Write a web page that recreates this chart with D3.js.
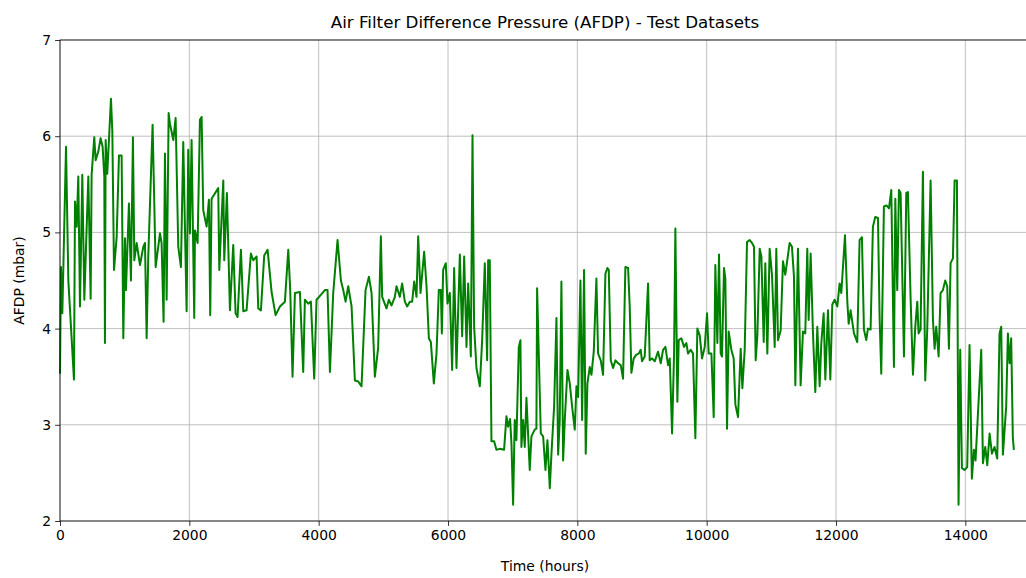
<!DOCTYPE html>
<html>
<head>
<meta charset="utf-8">
<script src="https://cdn.jsdelivr.net/npm/d3@7"></script>
<style>
  body { margin: 0; background: #fff; }
  text { font-family: "DejaVu Sans", sans-serif; fill: #000; }
</style>
</head>
<body>
<div id="main"></div>
<script>
// horas de operacao
const timeHours = [
  0, 15, 36, 93, 129, 216, 232, 258, 283, 309, 345, 376, 438, 474, 489, 530, 551, 592, 628, 659,
  685, 695, 706, 731, 757, 788, 809, 835, 876, 912, 953, 979, 1005, 1020, 1066, 1097, 1128, 1149, 1185, 1237,
  1288, 1314, 1340, 1365, 1432, 1479, 1546, 1571, 1602, 1623, 1649, 1680, 1700, 1752, 1788, 1829, 1870, 1906, 1958, 1983,
  2009, 2035, 2076, 2087, 2128, 2164, 2190, 2215, 2267, 2303, 2323, 2344, 2447, 2463, 2525,
  2540, 2581, 2628, 2679, 2715, 2746, 2798, 2834, 2885, 2952, 2988, 3040, 3066, 3107, 3158, 3210, 3272, 3334, 3401, 3478,
  3530, 3560, 3596, 3633, 3710, 3761, 3787, 3839, 3880, 3931, 3967, 4034, 4096, 4137, 4174, 4225, 4292, 4344, 4380, 4416,
  4457, 4509, 4560, 4612, 4663, 4725, 4777, 4818, 4869,
  4920, 4962, 4982, 5049, 5085, 5127, 5178, 5204, 5255, 5291, 5333, 5369, 5410, 5446, 5477, 5513, 5539, 5575, 5631, 5668,
  5704, 5735, 5781, 5822, 5858, 5889, 5905, 5925, 5966, 5992, 6028, 6064, 6095, 6131, 6183, 6219, 6250, 6286, 6312, 6353,
  6379, 6404, 6440, 6492, 6528, 6569, 6605, 6621, 6646,
  6672, 6713, 6749, 6801, 6867, 6904, 6929, 6960, 6981, 7007, 7032, 7058, 7095, 7120, 7135, 7161, 7187, 7213, 7264, 7290,
  7341, 7367, 7378,
  7435, 7471, 7507, 7538, 7574, 7600, 7641, 7677, 7703, 7728, 7754, 7780, 7806, 7847, 7883, 7919, 7960, 7986, 8012, 8048,
  8074, 8104, 8130, 8156, 8192, 8218, 8254, 8295, 8321, 8362, 8398, 8434, 8465, 8486, 8517, 8553, 8589, 8630, 8671, 8707,
  8743, 8785, 8810, 8836, 8872, 8913, 8949, 8980, 9001, 9042, 9094, 9119, 9155, 9197, 9248, 9290, 9326, 9362, 9403, 9429,
  9465, 9496, 9516, 9547, 9568, 9609, 9650, 9686, 9712, 9753, 9789, 9825, 9856, 9893,
  9928, 9970, 10006, 10031, 10073, 10109, 10134, 10165, 10191, 10217, 10237, 10268, 10289, 10315, 10340, 10382, 10418, 10444, 10485, 10526,
  10552, 10588, 10624, 10665, 10701, 10732, 10758, 10784, 10820, 10846, 10882, 10907, 10938, 10974, 11010, 11052, 11077, 11103, 11144, 11180,
  11216, 11283, 11319, 11350, 11371, 11412, 11453, 11489, 11525, 11556, 11577, 11608, 11644, 11680, 11711, 11747, 11773, 11809, 11835, 11876,
  11912, 11943, 11979, 12020, 12056, 12082, 12139, 12175, 12196, 12226, 12278,
  12329, 12365, 12401, 12432, 12468, 12494, 12535, 12571, 12607, 12649, 12674, 12700, 12741, 12782, 12819, 12855, 12896, 12917, 12947, 12973,
  12999, 13051, 13087, 13112, 13153, 13190, 13226, 13257, 13277, 13308, 13344, 13380, 13411, 13463, 13499, 13525, 13550, 13587, 13617, 13653,
  13689, 13720, 13746, 13772, 13808, 13834, 13870, 13895, 13921, 13947, 13988, 14029, 14065, 14101, 14133, 14158, 14246, 14272, 14308, 14339,
  14375, 14411, 14452, 14493, 14529, 14555, 14581, 14632, 14658, 14684, 14709, 14735, 14751
];

// pressao diferencial (mbar)
const afdp = [
  3.53, 4.64, 4.16, 5.89, 4.50, 3.47, 5.32, 5.06, 5.58, 4.23, 5.60, 4.30, 5.58, 4.31, 5.60, 5.99, 5.75, 5.84, 5.98, 5.89,
  5.58, 3.85, 5.96, 5.61, 5.96, 6.39, 6.06, 4.61, 4.95, 5.80, 5.80, 3.90, 4.94, 4.40, 5.30, 4.50, 5.99, 4.71, 4.89, 4.66,
  4.85, 4.89, 3.90, 4.75, 6.12, 4.64, 4.99, 4.89, 4.07, 5.82, 4.30, 6.24, 6.13, 5.96, 6.19, 4.85, 4.64, 5.94, 4.18, 5.86,
  4.99, 5.96, 4.11, 5.02, 4.89, 6.17, 6.20, 5.23, 5.06, 5.34, 4.14, 5.35, 5.46, 4.61, 5.54,
  4.71, 5.41, 4.19, 4.87, 4.16, 4.12, 4.82, 4.18, 4.19, 4.78, 4.71, 4.75, 4.21, 4.19, 4.76, 4.82, 4.38, 4.14, 4.23, 4.28,
  4.82, 4.40, 3.50, 4.37, 4.38, 3.55, 4.30, 4.26, 4.28, 3.48, 4.30, 4.35, 4.40, 4.40, 3.55, 4.37, 4.92, 4.50, 4.40, 4.28,
  4.44, 4.23, 3.46, 3.45, 3.40, 4.40, 4.54, 4.37, 3.50,
  3.80, 4.96, 4.33, 4.21, 4.30, 4.24, 4.33, 4.44, 4.33, 4.47, 4.28, 4.23, 4.28, 4.28, 4.49, 4.33, 4.96, 4.37, 4.80, 4.44,
  3.90, 3.86, 3.43, 3.74, 4.40, 4.40, 3.95, 4.61, 4.68, 4.26, 4.37, 3.57, 4.63, 3.59, 4.77, 3.92, 4.75, 3.81, 4.47, 3.71,
  6.01, 4.02, 3.59, 3.40, 3.88, 4.68, 3.67, 4.71, 4.71,
  2.83, 2.83, 2.74, 2.75, 2.74, 3.09, 2.98, 3.06, 2.81, 2.17, 3.05, 2.84, 3.81, 3.88, 2.77, 3.05, 2.77, 3.28, 2.53, 2.88,
  2.95, 2.96, 4.42,
  2.91, 2.88, 2.53, 2.84, 2.34, 2.70, 3.19, 4.11, 2.69, 3.05, 4.49, 2.63, 3.05, 3.57, 3.43, 3.19, 2.95, 3.40, 3.29, 4.50,
  3.05, 4.61, 2.70, 3.43, 3.60, 3.52, 3.76, 4.52, 3.74, 3.67, 3.52, 4.57, 4.63, 4.61, 3.67, 3.59, 3.67, 3.64, 3.62, 3.48,
  4.64, 4.63, 4.23, 3.54, 3.69, 3.73, 3.74, 3.78, 3.66, 3.71, 4.47, 3.67, 3.69, 3.66, 3.76, 3.64, 3.78, 3.81, 3.62, 3.69,
  2.91, 3.74, 5.04, 3.24, 3.88, 3.90, 3.81, 3.85, 3.74, 3.78, 3.74, 2.86, 4.00, 3.93,
  3.69, 3.81, 4.16, 3.74, 3.74, 3.08, 4.66, 3.85, 4.77, 3.74, 3.71, 4.63, 4.52, 2.96, 3.97, 3.78, 3.69, 3.21, 3.08, 3.79,
  3.38, 3.78, 4.90, 4.92, 4.89, 4.85, 3.67, 3.93, 4.83, 4.75, 3.86, 4.68, 3.74, 4.83, 4.56, 3.81, 4.83, 3.88, 3.98, 4.70,
  4.56, 4.89, 4.85, 4.54, 3.41, 4.83, 3.41, 3.97, 3.95, 4.83, 4.09, 4.78, 3.95, 3.34, 4.02, 3.40, 3.85, 4.16, 3.47, 4.19,
  3.47, 4.25, 4.30, 4.23, 4.47, 4.37, 4.97, 4.28, 4.05, 4.19, 3.95,
  3.86, 4.92, 4.95, 3.99, 3.88, 4.00, 3.99, 5.06, 5.16, 5.15, 4.12, 3.53, 5.27, 5.28, 5.25, 5.44, 3.60, 5.35, 4.40, 5.44,
  5.41, 3.71, 5.41, 5.42, 4.33, 3.52, 4.02, 4.28, 3.95, 3.99, 5.63, 3.46, 3.99, 5.54, 4.09, 3.79, 4.02, 3.71, 4.37, 4.40,
  4.50, 4.44, 3.79, 4.68, 4.73, 5.54, 5.54, 2.17, 3.78, 2.55, 2.53, 2.56, 3.83, 2.44, 2.74, 2.63, 3.78, 2.60, 2.77, 2.58,
  2.91, 2.70, 2.77, 2.65, 3.95, 4.02, 2.69, 3.19, 3.95, 3.64, 3.90, 2.86, 2.74
];

const xTicks = [0, 2000, 4000, 6000, 8000, 10000, 12000, 14000];
const yTicks = [2, 3, 4, 5, 6, 7];

class AfdpLine {
  constructor(config) {
    this.config = config;
    this.data = timeHours.map((t, i) => ({ t: t, v: afdp[i] }));
    this.createSvg();
    this.createScales();
  }

  createSvg() {
    this.svg = d3.select(this.config.div)
      .append("svg")
      .attr("width", 1026)
      .attr("height", 578);

    this.margins = this.svg.append("g")
      .attr("transform", `translate(${this.config.left},${this.config.top})`);
  }

  createScales() {
    this.xScale = d3.scaleLinear().domain([0, 15000]).range([0, this.config.width]);
    this.yScale = d3.scaleLinear().domain([2, 7]).range([this.config.height, 0]);
  }

  createGrid() {
    // grade cinza estilo matplotlib
    this.margins.append("g")
      .selectAll("line")
      .data(xTicks)
      .join("line")
      .attr("x1", d => this.xScale(d))
      .attr("x2", d => this.xScale(d))
      .attr("y1", 0)
      .attr("y2", this.config.height)
      .attr("stroke", "#b0b0b0")
      .attr("stroke-width", 0.8);

    this.margins.append("g")
      .selectAll("line")
      .data(yTicks)
      .join("line")
      .attr("x1", 0)
      .attr("x2", this.config.width)
      .attr("y1", d => this.yScale(d))
      .attr("y2", d => this.yScale(d))
      .attr("stroke", "#b0b0b0")
      .attr("stroke-width", 0.8);
  }

  renderLine() {
    let line = d3.line()
      .x(d => this.xScale(d.t))
      .y(d => this.yScale(d.v));

    this.margins.append("path")
      .datum(this.data)
      .attr("d", line)
      .attr("fill", "none")
      .attr("stroke", "green")
      .attr("stroke-width", 2)
      .attr("stroke-linejoin", "round");
  }

  createAxis() {
    let fmt = d3.format("d");
    let xAxis = d3.axisBottom(this.xScale).tickValues(xTicks).tickFormat(fmt).tickSize(4.9).tickPadding(4).tickSizeOuter(0);
    let yAxis = d3.axisLeft(this.yScale).tickValues(yTicks).tickFormat(fmt).tickSize(4.9).tickPadding(4).tickSizeOuter(0);

    let gx = this.margins.append("g")
      .attr("transform", `translate(0,${this.config.height})`)
      .call(xAxis);
    let gy = this.margins.append("g").call(yAxis);

    [gx, gy].forEach(g => {
      g.select(".domain").remove();
      g.selectAll("line").attr("stroke", "#000").attr("stroke-width", 0.8);
      g.selectAll("text").style("font-size", "13.9px").style("font-family", "DejaVu Sans");
    });

    // moldura
    this.margins.append("rect")
      .attr("width", this.config.width)
      .attr("height", this.config.height)
      .attr("fill", "none")
      .attr("stroke", "#000")
      .attr("stroke-width", 0.8);
  }

  createLabels() {
    this.svg.append("text")
      .attr("x", this.config.left + this.config.width / 2)
      .attr("y", 28)
      .attr("text-anchor", "middle")
      .style("font-size", "16.7px")
      .text("Air Filter Difference Pressure (AFDP) - Test Datasets");

    this.svg.append("text")
      .attr("x", this.config.left + this.config.width / 2)
      .attr("y", 571)
      .attr("text-anchor", "middle")
      .style("font-size", "13.9px")
      .text("Time (hours)");

    this.svg.append("text")
      .attr("transform", `translate(24,${this.config.top + this.config.height / 2}) rotate(-90)`)
      .attr("text-anchor", "middle")
      .style("font-size", "13.9px")
      .text("AFDP (mbar)");
  }
}

function main() {
  let config = { div: "#main", width: 970, height: 481, top: 40, left: 60 };
  let chart = new AfdpLine(config);
  chart.createGrid();
  chart.renderLine();
  chart.createAxis();
  chart.createLabels();
}

main();
</script>
</body>
</html>
